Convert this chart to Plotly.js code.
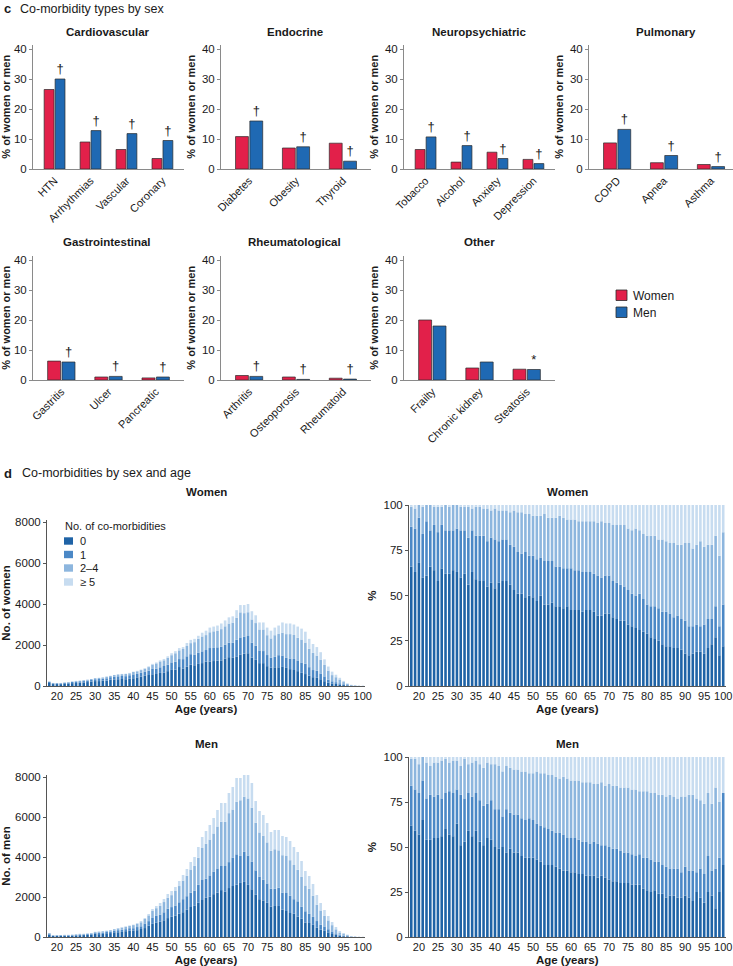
<!DOCTYPE html>
<html><head><meta charset="utf-8">
<script src="https://cdn.plot.ly/plotly-3.0.1.min.js"></script>
<style>body{margin:0;background:#fff}#chart{width:733px;height:966px}</style>
</head><body><div id="chart"></div>
<script>
// ---------------- Panel c data ----------------
const cvCats = ['HTN','Arrhythmias','Vascular','Coronary'];
const cvWomen = [26.5, 9.0, 6.5, 3.5];
const cvMen = [30.0, 12.8, 11.8, 9.5];
const cvMarks = ['†','†','†','†'];

const enCats = ['Diabetes','Obesity','Thyroid'];
const enWomen = [10.8, 7.0, 8.6];
const enMen = [16.0, 7.4, 2.6];
const enMarks = ['†','†','†'];

const npCats = ['Tobacco','Alcohol','Anxiety','Depression'];
const npWomen = [6.5, 2.3, 5.6, 3.2];
const npMen = [10.7, 7.8, 3.5, 1.8];
const npMarks = ['†','†','†','†'];

const puCats = ['COPD','Apnea','Asthma'];
const puWomen = [8.7, 2.1, 1.5];
const puMen = [13.2, 4.5, 0.8];
const puMarks = ['†','†','†'];

const giCats = ['Gastritis','Ulcer','Pancreatic'];
const giWomen = [6.3, 1.0, 0.7];
const giMen = [6.0, 1.2, 1.0];
const giMarks = ['†','†','†'];

const rhCats = ['Arthritis','Osteoporosis','Rheumatoid'];
const rhWomen = [1.5, 1.0, 0.6];
const rhMen = [1.2, 0.2, 0.3];
const rhMarks = ['†','†','†'];

const otCats = ['Frailty','Chronic kidney','Steatosis'];
const otWomen = [20.0, 4.0, 3.6];
const otMen = [18.0, 6.0, 3.5];
const otMarks = ['','','*'];

const panelTitles = ['Cardiovascular','Endocrine','Neuropsychiatric','Pulmonary','Gastrointestinal','Rheumatological','Other'];
const sexLabels = ['Women','Men'];

// ---------------- Panel d data ----------------
const ages = [18,19,20,21,22,23,24,25,26,27,28,29,30,31,32,33,34,35,36,37,38,39,40,41,42,43,44,45,46,47,48,49,50,
  51,52,53,54,55,56,57,58,59,60,61,62,63,64,65,66,67,68,69,70,71,72,73,74,75,76,77,78,79,80,
  81,82,83,84,85,86,87,88,89,90,91,92,93,94,95,96,97,98,99,100];
const ageTicks = [20,25,30,35,40,45,50,55,60,65,70,75,80,85,90,95,100];
const groupLabels = ['0','1','2–4','≥ 5'];

const womenTotal = [220,150,140,150,170,190,220,250,260,280,
  310,340,380,400,420,460,500,540,570,590,
  600,640,700,740,800,870,960,1080,1150,1250,
  1320,1450,1600,1700,1850,1900,2100,2250,2300,2450,
  2600,2700,2850,2900,2950,3050,3200,3350,3400,3700,
  3950,3950,4000,3650,3450,3100,3100,2850,2700,2850,
  2950,3100,3050,3050,3000,2900,2800,2650,2300,2050,
  1900,1650,1300,950,700,550,400,250,130,60,
  30,15,10];
// cumulative % at top of band "0", "1", "2-4"
const womenTop0 = [66,63,68,60,61,66,64,58,65,62,
  62,64,63,60,62,56,63,59,58,58,
  55,57,54,57,58,58,56,53,51,51,
  49,50,49,47,50,45,45,46,44,44,
  43,44,42,42,42,41,42,42,41,39,
  39,40,40,38,37,36,36,34,33,32,
  31,30,29,27,26,25,23,22,22,21,
  21,20,18,17,18,19,19,18,21,23,
  27,17,22];
const womenTop1 = [88,87,93,84,91,86,89,85,89,86,
  86,86,87,86,86,82,86,83,83,83,
  80,82,81,80,81,81,78,77,74,73,
  74,72,72,70,71,69,69,69,66,66,
  65,65,65,64,64,63,63,63,62,61,
  60,61,61,58,57,56,55,53,51,50,
  51,48,45,44,44,43,41,41,40,38,
  39,37,36,33,33,34,33,34,37,37,
  44,33,45];
const womenTop24 = [99,98,100,99,100,100,99,99,99,100,
  99,100,100,99,99,99,98,99,99,98,
  98,97,98,97,97,97,96,97,96,96,
  95,95,94,94,94,95,93,93,93,94,
  93,92,92,92,91,91,91,91,91,90,
  91,90,90,89,89,89,89,87,86,87,
  86,84,83,83,83,81,81,80,79,79,
  78,78,79,79,76,78,80,77,78,78,
  83,72,85];

const menTotal = [200,90,100,100,110,110,120,140,160,160,
  180,200,260,280,290,320,350,400,450,500,
  530,580,620,700,800,950,1150,1400,1550,1700,
  1900,2150,2300,2500,2800,3100,3400,3750,4000,4500,
  5000,5300,5600,5950,6350,6700,6700,7200,7500,7950,
  7950,8350,8150,7700,6800,6300,6100,5700,5250,5350,
  5350,5050,5000,4800,4500,4250,3800,3300,3050,2650,
  2100,1700,1350,1050,750,500,300,200,120,50,
  25,10,5];
const menTop0 = [62,59,57,65,54,54,55,55,56,60,
  57,56,63,51,53,59,56,59,53,51,
  55,54,50,49,50,47,49,47,47,45,
  44,44,44,43,42,40,40,40,39,38,
  37,37,36,36,35,35,34,34,34,33,
  34,33,32,31,31,30,30,30,29,29,
  29,27,26,25,26,24,24,22,23,23,
  22,22,23,22,20,25,22,19,25,23,
  16,25,40];
const menTop1 = [84,82,80,87,77,79,78,79,77,80,
  81,80,82,79,77,80,78,80,76,73,
  74,76,71,71,67,71,69,68,68,66,
  65,66,65,63,62,61,60,59,58,58,
  57,55,55,55,54,53,53,52,53,52,
  51,51,50,49,49,48,47,47,46,45,
  46,44,44,43,42,42,40,39,38,38,
  38,36,39,37,37,36,38,35,45,37,
  38,44,80];
const menTop24 = [99,99,96,100,97,95,97,97,98,99,
  97,98,98,95,99,96,97,98,96,94,
  97,96,96,95,92,95,94,93,93,92,
  92,91,91,92,91,91,90,90,89,88,
  89,88,87,87,87,86,86,86,85,85,
  86,84,85,84,84,83,83,83,82,82,
  81,81,81,80,80,79,79,78,79,78,
  77,78,78,79,79,77,76,74,80,74,
  83,75,80];

// ---------------- styling ----------------
const FONT = 'Liberation Sans, Arial, Helvetica, sans-serif';
const W = 733, H = 966;
const X = px => px / W;
const Y = py => 1 - py / H;
const RED = '#e2204a', BLUE = '#1f69b3', EDGE = '#2b2b2b';
const BAND = ['#1f63a6', '#4b88c6', '#8db6de', '#c7dcf0'];
const AXC = '#8a8a8a', AXD = '#555555', TXT = '#1a1a1a';

const panels = [
  {cats: cvCats, w: cvWomen, m: cvMen, mk: cvMarks, col: 0, row: 0},
  {cats: enCats, w: enWomen, m: enMen, mk: enMarks, col: 1, row: 0},
  {cats: npCats, w: npWomen, m: npMen, mk: npMarks, col: 2, row: 0},
  {cats: puCats, w: puWomen, m: puMen, mk: puMarks, col: 3, row: 0},
  {cats: giCats, w: giWomen, m: giMen, mk: giMarks, col: 0, row: 1},
  {cats: rhCats, w: rhWomen, m: rhMen, mk: rhMarks, col: 1, row: 1},
  {cats: otCats, w: otWomen, m: otMen, mk: otMarks, col: 2, row: 1}
];
const colPx = [[33, 184], [221, 371], [404, 555], [589, 733]];
const rowPx = [[44.5, 169], [255.5, 380]]; // top (41.5) and bottom (0)
const titleX = [[107.5, 295, 479, 666], [107, 294.5, 479]];
const titleY = [32, 242];

const data = [];
const layout = {
  width: W, height: H,
  margin: {l: 0, r: 0, t: 0, b: 0},
  paper_bgcolor: '#fff', plot_bgcolor: 'rgba(0,0,0,0)',
  font: {family: FONT, size: 11, color: TXT},
  showlegend: false,
  barmode: 'group', bargap: 0.39, bargroupgap: 0.1,
  annotations: [], shapes: []
};

panels.forEach((p, i) => {
  const n = i + 1;
  const xa = n === 1 ? 'x' : 'x' + n, ya = n === 1 ? 'y' : 'y' + n;
  const cp = colPx[p.col], rp = rowPx[p.row];
  const k = p.cats.length;
  const right = (p.col === 3) ? k - 0.53 : k - 0.4;
  data.push({type: 'bar', name: sexLabels[0], x: p.cats, y: p.w, xaxis: xa, yaxis: ya,
    marker: {color: RED, line: {color: EDGE, width: 0.7}}, hoverinfo: 'x+y'});
  data.push({type: 'bar', name: sexLabels[1], x: p.cats, y: p.m, xaxis: xa, yaxis: ya,
    marker: {color: BLUE, line: {color: EDGE, width: 0.7}},
    text: p.mk, textposition: 'outside', constraintext: 'none', cliponaxis: false,
    textfont: {size: 13, color: TXT, family: FONT},
    outsidetextfont: {size: 13, color: TXT, family: FONT}, hoverinfo: 'x+y'});
  layout['xaxis' + (n === 1 ? '' : n)] = {
    domain: [X(cp[0]), X(cp[1])], anchor: ya, type: 'category',
    range: [-0.6, right], showline: true, linecolor: AXC, linewidth: 1,
    ticks: '', tickangle: -45, tickfont: {size: 11, color: TXT}, showgrid: false, zeroline: false, fixedrange: true
  };
  layout['yaxis' + (n === 1 ? '' : n)] = {
    domain: [Y(rp[1]), Y(rp[0])], anchor: xa, range: [0, 41.5],
    tickvals: [0, 10, 20, 30, 40], showline: true, linecolor: AXC, linewidth: 1,
    ticks: 'outside', ticklen: 3, tickcolor: AXC, tickfont: {size: 11.5, color: TXT},
    showgrid: false, zeroline: false, fixedrange: true,
    title: {text: '<b>% of women or men</b>', font: {size: 11, color: TXT}, standoff: 4}
  };
  layout.annotations.push({xref: 'paper', yref: 'paper', x: X(titleX[p.row][p.col]), y: Y(titleY[p.row]),
    text: '<b>' + panelTitles[i] + '</b>', showarrow: false, xanchor: 'center', yanchor: 'middle',
    font: {size: 11.5, color: TXT}});
});

// ---------------- Panel d ----------------
function addStack(total, tops, axisN, pct) {
  const xa = 'x' + axisN, ya = 'y' + axisN;
  const bounds = [ages.map(() => 0), tops[0], tops[1], tops[2], ages.map(() => 100)];
  for (let b = 0; b < 4; b++) {
    const lo = bounds[b], hi = bounds[b + 1];
    const base = ages.map((a, j) => pct ? lo[j] : total[j] * lo[j] / 100);
    const hgt = ages.map((a, j) => pct ? (hi[j] - lo[j]) : total[j] * (hi[j] - lo[j]) / 100);
    data.push({type: 'bar', name: groupLabels[b], x: ages, y: hgt, base: base,
      width: 0.68, offset: -0.34, offsetgroup: 'd' + axisN,
      xaxis: xa, yaxis: ya, marker: {color: BAND[b], line: {width: 0}}, hoverinfo: 'x+y+name'});
  }
}
addStack(womenTotal, [womenTop0, womenTop1, womenTop24], 8, false);
addStack(womenTotal, [womenTop0, womenTop1, womenTop24], 9, true);
addStack(menTotal, [menTop0, menTop1, menTop24], 10, false);
addStack(menTotal, [menTop0, menTop1, menTop24], 11, true);

const dX = {left: [47, 365], right: [409, 725.5]};
const dDefs = [
  {n: 8, xs: dX.left, top: 520, bot: 686, range: [0, 8100], tv: [0, 2000, 4000, 6000, 8000], yt: '<b>No. of women</b>'},
  {n: 9, xs: dX.right, top: 505, bot: 686, range: [0, 100], tv: [0, 25, 50, 75, 100], yt: '<b>%</b>'},
  {n: 10, xs: dX.left, top: 775, bot: 937, range: [0, 8100], tv: [0, 2000, 4000, 6000, 8000], yt: '<b>No. of men</b>'},
  {n: 11, xs: dX.right, top: 757, bot: 937, range: [0, 100], tv: [0, 25, 50, 75, 100], yt: '<b>%</b>'}
];
dDefs.forEach(d => {
  layout['xaxis' + d.n] = {
    domain: [X(d.xs[0]), X(d.xs[1])], anchor: 'y' + d.n, range: [17.4, 100.6],
    tickvals: ageTicks, ticks: '', showline: true, linecolor: AXD, linewidth: 1,
    tickfont: {size: 11, color: TXT}, showgrid: false, zeroline: false, fixedrange: true,
    title: {text: '<b>Age (years)</b>', font: {size: 11.5, color: TXT}, standoff: 3}
  };
  layout['yaxis' + d.n] = {
    domain: [Y(d.bot), Y(d.top)], anchor: 'x' + d.n, range: d.range, tickvals: d.tv,
    showline: true, linecolor: AXD, linewidth: 1, ticks: 'outside', ticklen: 3, tickcolor: AXD,
    tickfont: {size: 11.5, color: TXT}, showgrid: false, zeroline: false, fixedrange: true,
    title: {text: d.yt, font: {size: 11.5, color: TXT}, standoff: 4}
  };
});

const ann = (px, py, text, size, anchor) => layout.annotations.push({xref: 'paper', yref: 'paper',
  x: X(px), y: Y(py), text: text, showarrow: false, xanchor: anchor || 'left', yanchor: 'middle',
  font: {size: size, color: TXT}});
ann(2, 9, '<b>c</b>', 13);
ann(18, 9, 'Co-morbidity types by sex', 12.5);
ann(2, 473, '<b>d</b>', 13);
ann(20, 473, 'Co-morbidities by sex and age', 12.5);
ann(206, 492, '<b>Women</b>', 11.5, 'center');
ann(567, 492, '<b>Women</b>', 11.5, 'center');
ann(206, 744, '<b>Men</b>', 11.5, 'center');
ann(567, 744, '<b>Men</b>', 11.5, 'center');

// legend for panel c
const rect = (x0, y0, x1, y1, fill, line) => layout.shapes.push({type: 'rect', xref: 'paper', yref: 'paper',
  x0: X(x0), x1: X(x1), y0: Y(y1), y1: Y(y0), fillcolor: fill, line: {color: line || fill, width: line ? 0.8 : 0}});
rect(616, 290, 627, 300.5, RED, EDGE);
rect(616, 307, 627, 317.5, BLUE, EDGE);
ann(631, 295.5, sexLabels[0], 12);
ann(631, 312.5, sexLabels[1], 12);

// legend for panel d
ann(63, 526, 'No. of co-morbidities', 11);
const legY = [541, 554.5, 568, 582];
legY.forEach((yy, b) => {
  rect(64, yy - 3.7, 73, yy + 3.7, BAND[b]);
  ann(78, yy, groupLabels[b], 11);
});

Plotly.newPlot('chart', data, layout, {staticPlot: true, displayModeBar: false});
</script>
</body></html>
